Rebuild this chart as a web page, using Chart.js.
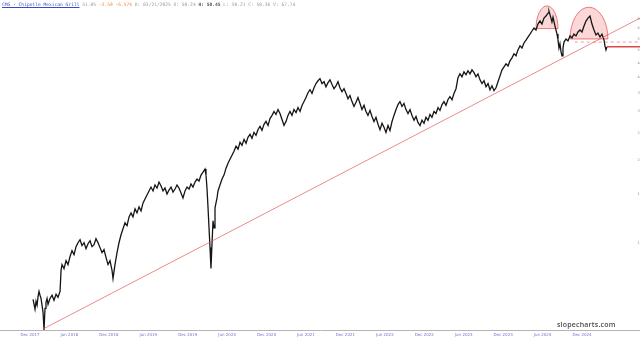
<!DOCTYPE html>
<html>
<head>
<meta charset="utf-8">
<script src="https://cdn.jsdelivr.net/npm/chart.js@4.4.1/dist/chart.umd.min.js"></script>
<style>
  html, body { margin: 0; padding: 0; background: #fff; }
  #wrap { position: relative; width: 640px; height: 341px; overflow: hidden; }
  #header {
    position: absolute; left: 2px; top: 2px;
    font: 4.6px "DejaVu Sans Mono", monospace; color: #9a9a9a; white-space: nowrap;
  }
  #header .sym { color: #3a47c8; text-decoration: underline; }
  #header .chg { color: #f08a4b; }
  #header .hi { color: #555; font-weight: bold; }
  #brand {
    position: absolute; left: 557px; top: 320px;
    font: 600 7px "Open Sans", sans-serif; color: #4a4a4a; letter-spacing: 0.2px;
  }
</style>
</head>
<body>
<div id="wrap">
  <canvas id="chart" width="640" height="341"></canvas>
  <div id="header"><span class="sym">CMG - Chipotle Mexican Grill</span> 51.05 <span class="chg">-3.59 -6.57%</span> D: 03/21/2025 O: 50.24 <span class="hi">H: 50.45</span> L: 50.21 C: 50.36 V: 67.74</div>
  <div id="brand">slopecharts.com</div>
</div>
<script>
// x values are months since Dec 2017
const months = [
  0.46,0.61,0.76,0.91,1.07,1.22,1.37,1.52,1.67,1.83,
  1.98,2.13,2.28,2.43,2.59,2.74,3.04,3.35,3.65,3.96,
  4.26,4.57,4.72,4.87,5.17,5.48,5.78,6.09,6.39,6.70,
  7.00,7.30,7.61,7.91,8.22,8.52,8.83,9.13,9.43,9.74,
  10.04,10.35,10.65,10.96,11.26,11.57,11.87,12.17,12.48,12.63,
  12.93,13.24,13.54,13.85,14.15,14.46,14.76,15.07,15.37,15.67,
  15.98,16.28,16.59,16.89,17.20,17.50,17.80,18.11,18.41,18.72,
  19.02,19.33,19.63,19.94,20.24,20.54,20.85,21.15,21.46,21.76,
  22.07,22.37,22.67,22.98,23.28,23.59,23.89,24.20,24.50,24.80,
  25.11,25.41,25.72,26.02,26.33,26.63,26.78,26.93,27.09,27.24,
  27.39,27.54,27.70,27.85,28.00,28.15,28.46,28.61,28.91,29.22,
  29.52,29.83,30.13,30.43,30.74,31.04,31.35,31.65,31.96,32.26,
  32.57,32.87,33.17,33.48,33.78,34.09,34.39,34.70,35.00,35.30,
  35.61,35.91,36.22,36.52,36.83,37.13,37.43,37.74,38.04,38.35,
  38.65,38.96,39.26,39.56,39.87,40.17,40.48,40.78,41.09,41.39,
  41.70,42.00,42.30,42.61,42.91,43.22,43.52,43.83,44.13,44.43,
  44.74,45.04,45.35,45.65,45.96,46.26,46.56,46.87,47.17,47.48,
  47.78,48.09,48.39,48.69,49.00,49.30,49.61,49.91,50.22,50.52,
  50.83,51.13,51.43,51.74,52.04,52.35,52.65,52.96,53.26,53.57,
  53.87,54.17,54.48,54.78,55.09,55.39,55.70,56.00,56.30,56.61,
  56.91,57.22,57.52,57.83,58.13,58.44,58.74,59.04,59.35,59.65,
  59.96,60.26,60.57,60.87,61.17,61.48,61.78,62.09,62.39,62.70,
  63.00,63.30,63.61,63.91,64.22,64.52,64.83,65.13,65.43,65.74,
  66.04,66.35,66.65,66.96,67.26,67.57,67.87,68.17,68.48,68.78,
  69.09,69.39,69.70,70.00,70.30,70.61,70.91,71.22,71.52,71.83,
  72.13,72.44,72.74,73.04,73.35,73.65,73.96,74.26,74.57,74.87,
  75.17,75.48,75.78,76.09,76.39,76.70,77.00,77.30,77.61,77.91,
  78.22,78.52,78.83,78.98,79.28,79.43,79.59,79.89,80.20,80.35,
  80.50,80.65,80.81,80.96,81.11,81.26,81.57,81.87,82.18,82.48,
  82.78,83.09,83.39,83.70,84.00,84.31,84.61,84.91,85.22,85.52,
  85.83,86.13,86.43,86.74,87.04,87.35,87.50,87.65,87.80
];
const closes = [
  6.25,6.00,5.76,6.15,5.95,6.41,6.68,6.47,6.30,5.95,
  5.61,4.84,5.80,6.10,6.30,6.00,6.30,6.47,6.20,6.52,
  6.36,6.68,7.96,8.36,8.08,8.64,8.36,8.94,9.39,9.08,
  9.71,10.03,10.29,9.79,10.03,9.55,9.95,10.20,9.71,9.87,
  10.37,10.03,9.63,9.24,9.47,8.86,8.36,8.64,7.96,7.44,
  8.36,9.24,10.03,10.72,11.27,11.85,11.56,12.45,12.87,12.45,
  13.31,12.87,13.53,13.09,13.99,14.46,14.95,15.46,15.97,15.46,
  16.25,15.84,16.65,16.11,15.46,15.84,15.07,15.58,15.97,15.32,
  15.71,16.25,15.84,15.20,14.58,15.46,15.97,15.71,16.38,15.97,
  16.65,17.07,16.79,17.65,18.09,18.55,17.65,15.84,13.42,11.37,
  9.63,8.09,10.03,12.05,11.37,13.42,14.58,15.46,16.25,17.07,
  17.65,18.70,19.49,20.15,20.84,21.54,22.46,21.91,23.21,22.64,
  23.79,23.01,24.19,24.80,23.99,25.21,24.60,25.84,26.50,25.63,
  26.95,27.63,26.72,28.30,29.05,30.03,29.29,30.52,29.50,28.08,
  26.72,27.63,29.05,30.03,29.05,30.52,29.76,31.03,30.03,31.56,
  32.62,33.73,35.10,36.00,34.90,36.60,37.90,38.80,39.50,37.90,
  38.50,36.90,38.20,39.10,37.60,36.30,37.20,38.50,36.60,35.40,
  36.30,34.90,33.40,34.30,32.60,31.30,32.40,33.70,32.10,30.50,
  31.60,30.00,29.05,30.30,28.80,27.60,28.60,27.00,25.80,27.20,
  26.30,25.20,26.70,25.60,27.60,29.05,30.50,31.80,32.60,31.30,
  32.10,30.50,29.50,30.50,29.05,27.90,28.80,27.40,26.70,27.90,
  27.20,28.60,27.90,29.30,28.60,30.00,29.50,31.00,30.30,31.80,
  32.60,31.60,33.20,34.00,33.10,34.90,36.30,39.80,41.10,40.10,
  41.80,40.80,42.20,41.10,42.50,41.50,40.10,41.10,39.10,37.90,
  38.80,36.90,37.90,36.00,37.20,35.70,36.60,38.50,40.40,42.50,
  43.60,44.70,43.90,45.80,47.00,48.60,47.80,50.20,51.90,51.00,
  53.20,54.50,55.90,57.30,58.80,60.30,59.30,62.30,63.90,62.30,
  65.50,66.60,68.30,69.40,65.50,63.40,66.00,61.30,57.30,54.60,
  51.00,52.80,49.40,47.80,51.00,53.60,55.00,54.10,56.40,55.50,
  57.30,56.40,58.30,59.30,58.30,61.30,63.90,65.50,66.60,62.30,
  59.30,56.90,57.80,55.90,57.30,54.60,51.90,50.20,51.50
];

const tickMonths = [0, 6, 12, 18, 24, 30, 36, 42, 48, 54, 60, 66, 72, 78, 84];
const tickLabels = ["Dec 2017", "Jun 2018", "Dec 2018", "Jun 2019", "Dec 2019", "Jun 2020", "Dec 2020",
  "Jun 2021", "Dec 2021", "Jun 2022", "Dec 2022", "Jun 2023", "Dec 2023", "Jun 2024", "Dec 2024"];
const priceTicks = [5, 10, 15, 20, 25, 30, 35, 40, 45, 50, 55, 60, 65];

const monthMin = -4.57;
const monthMax = 92.83;
const priceMin = 4.84;
const priceMax = 73.6;

// trendline from the 2018 low
const trendMonths = [2.13, 92.83];
const trendPrices = [4.9, 65.5];

// rounded-top domes
const domeStart = [77.0, 82.18];
const domeEnd = [80.35, 87.95];
const domeBase = [60.0, 55.0];
const domeTop = [72.5, 71.7];

// horizontal levels
const dashedLevel = { from: 82.9, price: 53.6 };
const supportLevel = { from: 87.8, price: 51.5 };

const domePlugin = {
  id: "domes",
  beforeDatasetsDraw(chart) {
    const { ctx, scales: { x, y } } = chart;
    ctx.save();
    domeStart.forEach((s, i) => {
      const x0 = x.getPixelForValue(s);
      const x1 = x.getPixelForValue(domeEnd[i]);
      const yb = y.getPixelForValue(domeBase[i]);
      const yt = y.getPixelForValue(domeTop[i]);
      ctx.beginPath();
      ctx.ellipse((x0 + x1) / 2, yb, (x1 - x0) / 2, yb - yt, 0, Math.PI, 2 * Math.PI);
      ctx.closePath();
      ctx.fillStyle = "rgba(240,110,110,0.28)";
      ctx.fill();
      ctx.strokeStyle = "rgba(220,60,60,0.8)";
      ctx.lineWidth = 0.8;
      ctx.stroke();
    });
    ctx.restore();
  },
};

const pricePoints = months.map((m, i) => ({ x: m, y: closes[i] }));

new Chart(document.getElementById("chart"), {
  type: "line",
  data: {
    datasets: [
      {
        data: trendMonths.map((m, i) => ({ x: m, y: trendPrices[i] })),
        borderColor: "rgba(230,80,80,0.85)",
        borderWidth: 0.8,
        pointRadius: 0,
      },
      {
        data: [{ x: dashedLevel.from, y: dashedLevel.price }, { x: monthMax, y: dashedLevel.price }],
        borderColor: "rgba(230,90,90,0.75)",
        borderWidth: 0.8,
        borderDash: [3, 3],
        pointRadius: 0,
      },
      {
        data: [{ x: supportLevel.from, y: supportLevel.price }, { x: monthMax, y: supportLevel.price }],
        borderColor: "#e04848",
        borderWidth: 1.5,
        pointRadius: 0,
      },
      {
        data: pricePoints,
        borderColor: "#151515",
        borderWidth: 1.3,
        pointRadius: 0,
        tension: 0,
      },
    ],
  },
  options: {
    responsive: false,
    animation: false,
    layout: { padding: 0 },
    plugins: { legend: { display: false }, tooltip: { enabled: false } },
    scales: {
      x: {
        type: "linear",
        min: monthMin,
        max: monthMax,
        grid: { display: false, drawTicks: false },
        border: { color: "#b5b5b5", width: 1 },
        ticks: {
          autoSkip: false,
          maxRotation: 0,
          padding: 3,
          color: "#7474cc",
          font: { family: "DejaVu Sans", size: 4 },
          callback: (v, i) => tickLabels[i],
        },
        afterBuildTicks: (s) => { s.ticks = tickMonths.map((v) => ({ value: v })); },
        afterFit: (s) => { s.height = 11; },
      },
      y: {
        type: "logarithmic",
        position: "right",
        min: priceMin,
        max: priceMax,
        grid: { display: false, drawTicks: false },
        border: { display: false },
        ticks: {
          mirror: true,
          padding: 2,
          color: "#8c8c8c",
          font: { family: "DejaVu Sans", size: 3.5 },
          callback: (v) => String(v),
        },
        afterBuildTicks: (s) => { s.ticks = priceTicks.map((v) => ({ value: v })); },
        afterFit: (s) => { s.width = 0; },
      },
    },
  },
  plugins: [domePlugin],
});
</script>
</body>
</html>
